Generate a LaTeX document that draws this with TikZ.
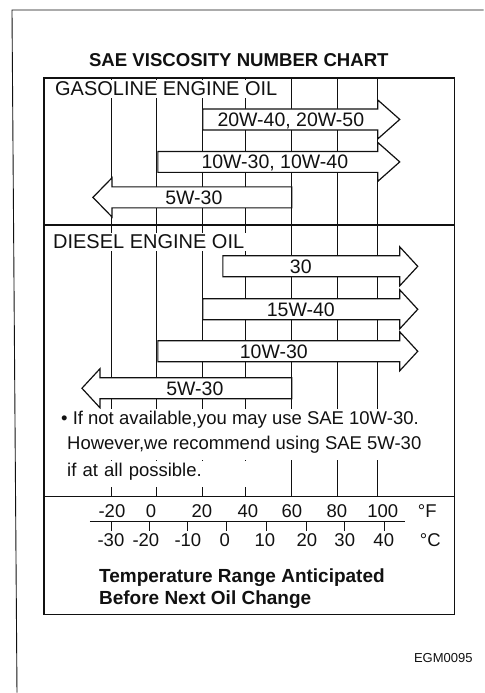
\documentclass[tikz,border=0pt]{standalone}
\usepackage{fontspec}
\setmainfont{Liberation Sans}
\usepackage{tikz}
\definecolor{ink}{HTML}{111111}
\definecolor{paper}{HTML}{FFFFFF}
\tikzset{pageframe/.style={draw=ink,line width=0.9pt}}
\tikzset{chartbox/.style={draw=ink,line width=1.5pt}}
\tikzset{gridline/.style={draw=ink,line width=0.9pt}}
\tikzset{oilarrow/.style={draw=ink,fill=paper,line width=1.2pt}}
\tikzset{charttitle/.style={ink,anchor=base,inner sep=0pt,font=\bfseries\fontsize{18.6}{22}\selectfont}}
\tikzset{arrowlabel/.style={ink,inner sep=0pt,text height=14pt,text depth=0pt,font=\fontsize{19.5}{22}\selectfont}}
\tikzset{sectionlabel/.style={ink,fill=paper,anchor=base west,inner xsep=2pt,inner ysep=2pt,font=\fontsize{20}{24}\selectfont}}
\tikzset{notetext/.style={ink,fill=paper,anchor=base west,inner xsep=2pt,inner ysep=1pt,text height=15pt,text depth=9pt,font=\fontsize{18.5}{22}\selectfont}}
\tikzset{scalelabel/.style={ink,anchor=base,inner sep=0pt,font=\fontsize{18.5}{22}\selectfont}}
\tikzset{rangetext/.style={ink,anchor=base west,inner sep=0pt,font=\bfseries\fontsize{19}{22}\selectfont}}
\tikzset{codetext/.style={ink,anchor=base east,inner sep=0pt,font=\fontsize{13}{15}\selectfont}}

\begin{document}
\begin{tikzpicture}[x=1pt,y=-1pt]
    \fill[paper] (0,0) rectangle (484,693);

    % page frame
    \draw[pageframe] (484,10) -- (12,10) -- (17,693);

    \node[charttitle] (title) at (239,67) {SAE VISCOSITY NUMBER CHART};

    % chart body and section rules
    \draw[chartbox] (44,78) rectangle (455,615);
    \draw[chartbox] (44,225) -- (455,225);
    \draw[chartbox] (44,497) -- (455,497);

    % temperature grid, -20 .. 100 F
    \draw[gridline] (112,78) -- (112,497);
    \draw[gridline] (157,78) -- (157,497);
    \draw[gridline] (203,78) -- (203,497);
    \draw[gridline] (246,78) -- (246,497);
    \draw[gridline] (292,78) -- (292,497);
    \draw[gridline] (338,78) -- (338,497);
    \draw[gridline] (378,78) -- (378,497);

    % gasoline engine oil
    \node[sectionlabel] (gas) at (53,96) {GASOLINE ENGINE OIL};

    \filldraw[oilarrow] (203,109) -- (378,109) -- (378,100) -- (400,119.5)
        -- (378,139) -- (378,130) -- (203,130) -- cycle;
    \node[arrowlabel] (gas2050) at (291,119.5) {20W-40, 20W-50};

    \filldraw[oilarrow] (158,151.5) -- (378,151.5) -- (378,142.5) -- (400,162)
        -- (378,181.5) -- (378,172.5) -- (158,172.5) -- cycle;
    \node[arrowlabel] (gas1040) at (275,162) {10W-30, 10W-40};

    \filldraw[oilarrow] (292,187) -- (112,187) -- (112,178) -- (93,197.5)
        -- (112,217) -- (112,208) -- (292,208) -- cycle;
    \node[arrowlabel] (gas5w30) at (194,197.5) {5W-30};

    % diesel engine oil
    \node[sectionlabel] (dsl) at (51,249) {DIESEL ENGINE OIL};

    \filldraw[oilarrow] (223,256) -- (400,256) -- (400,247) -- (418,266.5)
        -- (400,286) -- (400,277) -- (223,277) -- cycle;
    \node[arrowlabel] (dsl30) at (301,266.5) {30};

    \filldraw[oilarrow] (203,299) -- (400,299) -- (400,290) -- (418,309.5)
        -- (400,329) -- (400,320) -- (203,320) -- cycle;
    \node[arrowlabel] (dsl1540) at (301,309.5) {15W-40};

    \filldraw[oilarrow] (158,341) -- (400,341) -- (400,332) -- (418,351.5)
        -- (400,371) -- (400,362) -- (158,362) -- cycle;
    \node[arrowlabel] (dsl1030) at (274,351.5) {10W-30};

    \filldraw[oilarrow] (292,378) -- (100,378) -- (100,369) -- (82,388.5)
        -- (100,408) -- (100,399) -- (292,399) -- cycle;
    \node[arrowlabel] (dsl5w30) at (195,388.5) {5W-30};

    % note
    \node[notetext] (note1) at (59,425) {\textbullet\ If not available,you may use SAE 10W-30.};
    \node[notetext] (note2) at (65,450) {However,we recommend using SAE 5W-30};
    \node[notetext,text width=216pt,align=left] (note3) at (65,477) {if at all possible.};

    % temperature scale
    \draw[chartbox] (90,522) -- (405,522);

    \node[scalelabel] (f1) at (112,518) {-20};
    \node[scalelabel] (f2) at (151,518) {0};
    \node[scalelabel] (f3) at (202,518) {20};
    \node[scalelabel] (f4) at (248,518) {40};
    \node[scalelabel] (f5) at (292,518) {60};
    \node[scalelabel] (f6) at (337,518) {80};
    \node[scalelabel] (f7) at (383,518) {100};
    \node[scalelabel,anchor=base west] (fdeg) at (418,518) {°F};

    \draw[gridline] (112,522) -- (112,531);
    \draw[gridline] (150,522) -- (150,531);
    \draw[gridline] (188,522) -- (188,531);
    \draw[gridline] (227,522) -- (227,531);
    \draw[gridline] (267,522) -- (267,531);
    \draw[gridline] (307,522) -- (307,531);
    \draw[gridline] (345,522) -- (345,531);
    \draw[gridline] (385,522) -- (385,531);

    \node[scalelabel] (c1) at (111,547) {-30};
    \node[scalelabel] (c2) at (146,547) {-20};
    \node[scalelabel] (c3) at (188,547) {-10};
    \node[scalelabel] (c4) at (225,547) {0};
    \node[scalelabel] (c5) at (265,547) {10};
    \node[scalelabel] (c6) at (307,547) {20};
    \node[scalelabel] (c7) at (345,547) {30};
    \node[scalelabel] (c8) at (384,547) {40};
    \node[scalelabel,anchor=base west] (cdeg) at (420,547) {°C};

    \node[rangetext] (range1) at (99,583) {Temperature Range Anticipated};
    \node[rangetext] (range2) at (99,605) {Before Next Oil Change};

    \node[codetext] (code) at (473,663) {EGM0095};
\end{tikzpicture}
\end{document}
